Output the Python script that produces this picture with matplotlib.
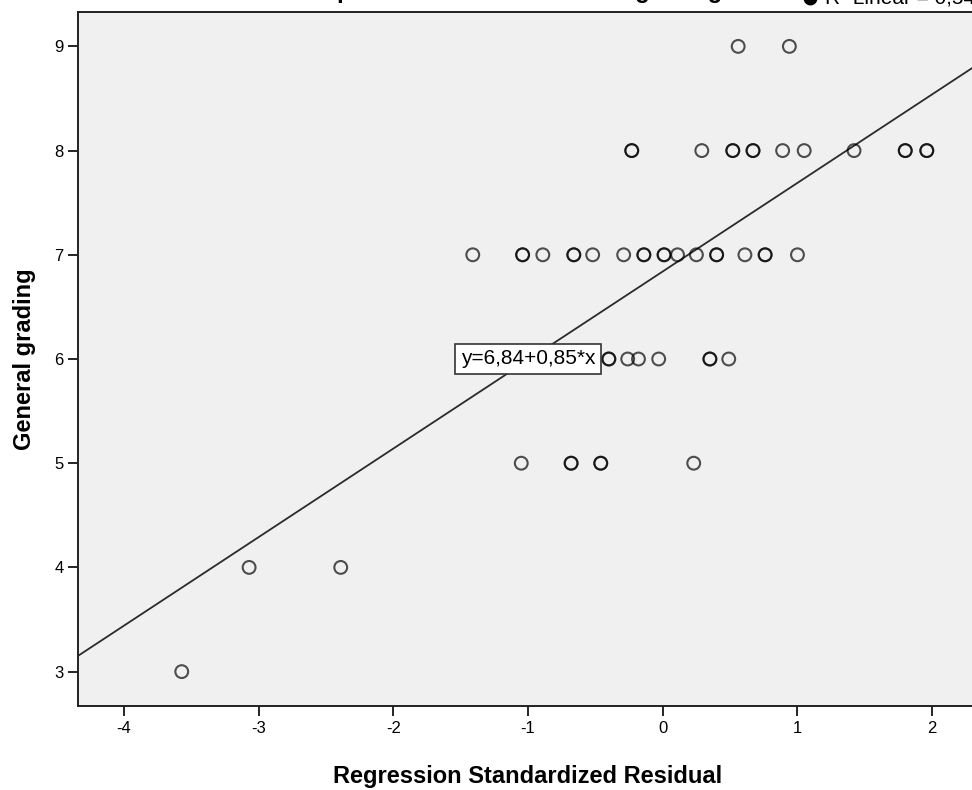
import matplotlib

matplotlib.use("Agg")
import matplotlib.pyplot as plt
from matplotlib.lines import Line2D

plt.rcParams["font.family"] = ["Liberation Sans", "DejaVu Sans"]
plt.rcParams["axes.unicode_minus"] = False

# standardized residual (x) and general grading (y)
RESID_9 = [0.56, 0.94]
RESID_8 = [-0.23, -0.23, 0.29, 0.52, 0.52, 0.67, 0.67, 0.89, 1.05, 1.42,
           1.80, 1.80, 1.96, 1.96]
RESID_7 = [-1.41, -1.04, -1.04, -0.89, -0.66, -0.66, -0.52, -0.29, -0.14,
           -0.14, 0.01, 0.01, 0.11, 0.25, 0.40, 0.40, 0.61, 0.76, 0.76, 1.00]
RESID_6 = [-0.40, -0.40, -0.26, -0.18, -0.03, 0.35, 0.35, 0.49]
RESID_5 = [-1.05, -0.68, -0.68, -0.46, -0.46, 0.23]
RESID_4 = [-3.07, -2.39]
RESID_3 = [-3.57]

GRADE_ROWS = [(9, RESID_9), (8, RESID_8), (7, RESID_7), (6, RESID_6),
              (5, RESID_5), (4, RESID_4), (3, RESID_3)]

INTERCEPT = 6.84
SLOPE = 0.85
R2_TEXT = "R² Linear = 0,542"
FIT_TEXT = "y=6,84+0,85*x"

X_TICKS = [-4, -3, -2, -1, 0, 1, 2]
Y_TICKS = [3, 4, 5, 6, 7, 8, 9]


def main() -> None:
    fig = plt.figure(figsize=(9.72, 7.90), dpi=100)
    ax = fig.add_axes([78 / 972, 84 / 790, 900 / 972, 694 / 790])
    ax.set_facecolor("#f0f0f0")

    xs: list[float] = []
    ys: list[float] = []
    for grade, resid in GRADE_ROWS:
        xs.extend(resid)
        ys.extend([grade] * len(resid))
    ax.scatter(xs, ys, s=85, facecolors="none", edgecolors="black",
               linewidths=1.5, alpha=0.68, zorder=3)

    ax.axline((0, INTERCEPT), slope=SLOPE, color="#2b2b2b", lw=1.3, zorder=2)

    ax.text(-1.0, 6.0, FIT_TEXT, ha="center", va="center", fontsize=15,
            color="black", zorder=5,
            bbox=dict(boxstyle="square,pad=0.28", fc="white", ec="#333333",
                      lw=1.2))

    ax.set_xlim(-4.34, 2.34)
    ax.set_ylim(2.67, 9.33)
    ax.set_xticks(X_TICKS)
    ax.set_yticks(Y_TICKS)
    ax.tick_params(direction="out", length=7, width=1.2, labelsize=12,
                   colors="black")
    for side in ("left", "bottom", "top", "right"):
        ax.spines[side].set_color("#222222")
        ax.spines[side].set_linewidth(1.4)

    ax.set_xlabel("Regression Standardized Residual", fontsize=17,
                  fontweight="bold", labelpad=21)
    ax.set_ylabel("General grading", fontsize=17, fontweight="bold",
                  labelpad=13)

    # title and legend sit mostly above the cropped top edge
    fig.text(515 / 972, 1.0 + 2 / 790, "Dependent Variable: General grading",
             ha="center", va="baseline", fontsize=17, fontweight="bold")
    fig.add_artist(Line2D([810 / 972], [1.0 + 2 / 790], marker="o",
                          markersize=9, color="black",
                          transform=fig.transFigure))
    fig.text(825 / 972, 1.0 - 3 / 790, R2_TEXT, ha="left", va="baseline",
             fontsize=15)

    fig.savefig("out.png", dpi=100)
    plt.close(fig)


if __name__ == "__main__":
    main()
